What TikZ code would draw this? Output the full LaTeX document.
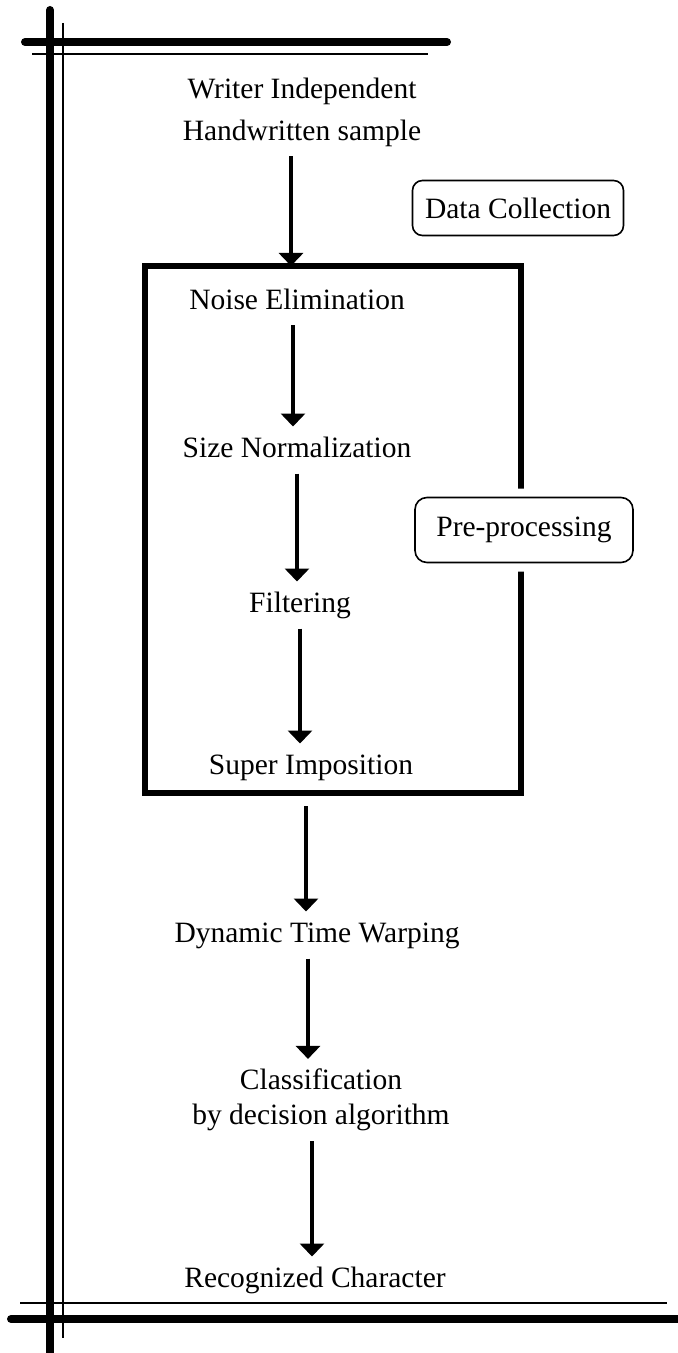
\documentclass[tikz,border=0pt]{standalone}
\usepackage{fontspec}
\setmainfont{Liberation Serif}
\usetikzlibrary{arrows.meta}

\begin{document}
\begin{tikzpicture}[x=0.5pt,y=-0.5pt]
  \tikzstyle{every node}+=[inner sep=0pt, font=\fontsize{14.75}{21}\selectfont]
  \tikzstyle{stage}=[text height=10.5pt, text depth=3pt, outer sep=5pt]
  \tikzstyle{stagetwo}=[align=center, outer sep=5pt]
  \tikzstyle{flow}=[line width=1.75pt, -{Triangle[width=12pt,length=6.5pt]}]
  \tikzstyle{tag}=[draw, line width=0.8pt, rounded corners=5pt, fill=white]
  \useasboundingbox (0,0) rectangle (677,1353);
  % border lines
  \draw [line width=4pt, line cap=round] (25,42) -- (447,42);
  \draw [line width=1pt] (32,54) -- (428,54);
  \draw [line width=4pt, line cap=round] (50,10) -- (50,1360);
  \draw [line width=1pt] (63,23) -- (63,1338);
  \draw [line width=1pt] (20,1303) -- (667,1303);
  \draw [line width=4pt, line cap=round] (11,1319) -- (690,1319);
  % pre-processing frame
  \coordinate (fnw) at (145,266);
  \coordinate (fse) at (521,793);
  \draw [line width=3pt] (fnw) rectangle (fse);
  % stages
  \node [stagetwo] (hand) at (302,112) {Writer Independent\\Handwritten sample};
  \node [tag, minimum width=105.5pt, minimum height=27.5pt] (collect) at (518,208) {Data Collection};
  \node [stage] (noise) at (297,302) {Noise Elimination};
  \node [stage] (size) at (297,450) {Size Normalization};
  \node [tag, minimum width=109pt, minimum height=32.5pt, rounded corners=6pt,
         preaction={draw=white, line width=9pt}] (prep) at (524,530) {Pre-processing};
  \node [stage] (filter) at (300,605) {Filtering};
  \node [stage] (super) at (311,767) {Super Imposition};
  \node [stage] (dtw) at (317,935) {Dynamic Time Warping};
  \node [stagetwo, font=\fontsize{14.75}{17.5}\selectfont] (class) at (321,1100) {Classification\\by decision algorithm};
  \node [stage] (recog) at (315,1280) {Recognized Character};
  % arrows
  \draw [flow] ([xshift=-5.5pt]hand.south) -- ([xshift=-5.5pt]hand.south |- fnw);
  \draw [flow] ([xshift=-2pt]noise.south) -- ([xshift=-2pt]noise.south |- size.north);
  \draw [flow] (size.south) -- (size.south |- filter.north);
  \draw [flow] (filter.south) -- (filter.south |- super.north);
  \draw [flow, shorten <=6.5pt] ([xshift=-2.5pt]super |- fse) -- ([xshift=-2.5pt]super |- dtw.north);
  \draw [flow] ([xshift=-4.5pt]dtw.south) -- ([xshift=-4.5pt]dtw.south |- class.north);
  \draw [flow] ([xshift=-4.5pt]class.south) -- ([xshift=-4.5pt]class.south |- recog.north);
\end{tikzpicture}
\end{document}
